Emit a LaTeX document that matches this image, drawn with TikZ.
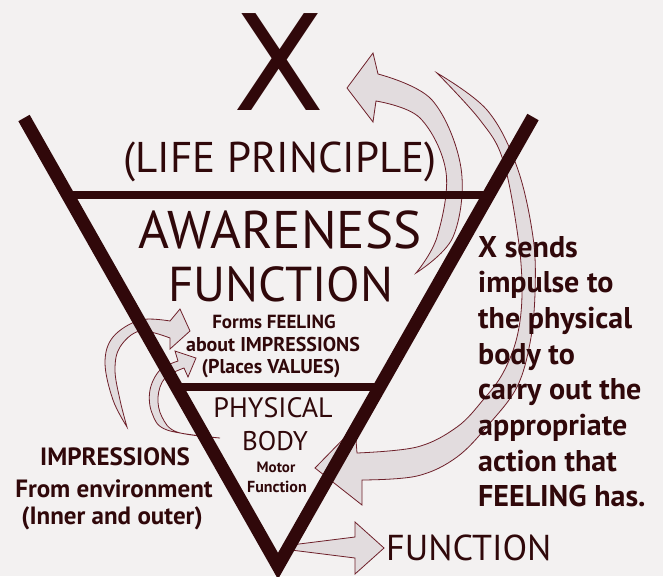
\documentclass[tikz,border=0pt]{standalone}
\usepackage{fontspec}
\setmainfont{PT Sans}
\newfontfamily\crossfont{DejaVu Sans}
\definecolor{ink}{RGB}{48,8,10}
\definecolor{rim}{RGB}{110,32,42}
\definecolor{pale}{RGB}{226,220,222}
\definecolor{paper}{RGB}{243,241,241}
\newcommand{\fs}[1]{\fontsize{#1}{#1}\selectfont}
\begin{document}
\begin{tikzpicture}[x=1pt,y=-1pt,
  every node/.style={text=ink, inner sep=0pt, anchor=base},
  bar/.style={draw=ink, line width=13pt},
  rule/.style={draw=ink, line width=8pt},
  blockarrow/.style={draw=rim, line width=0.8pt, fill=pale}]
\fill[paper] (0,0) rectangle (663,576);
\useasboundingbox (0,0) rectangle (663,576);

% arrows
\filldraw[blockarrow] plot[smooth,tension=0.6] coordinates {(416,273) (453,237) (461,168) (432,100) (378,74)}
  -- (373,53) -- (347,88) -- (373,122) --
  plot[smooth,tension=0.6] coordinates {(376,101) (420,118) (446,172) (437,237) (416,273)} -- cycle;
\filldraw[blockarrow] plot[smooth,tension=0.6] coordinates {(437,73) (487,110) (517,167) (533,237) (535,293) (530,343) (517,387) (490,423) (457,457) (417,476) (362,480)}
  -- (362,505) -- (315,468) -- (355,427) --
  plot[smooth,tension=0.6] coordinates {(357,453) (417,447) (457,427) (483,400) (503,373) (517,337) (522,293) (518,237) (503,160) (480,120) (437,73)} -- cycle;
\filldraw[blockarrow] (291,545) -- (355,537) -- (355,522) -- (384,548) -- (355,574) -- (355,558) -- (291,550) -- cycle;
\filldraw[blockarrow] plot[smooth,tension=0.6] coordinates {(127,427) (113,400) (105,363) (113,337) (140,320) (170,321)}
  -- (180,309) -- (190,331) -- (170,349) --
  plot[smooth,tension=0.6] coordinates {(170,338) (140,331) (120,347) (115,370) (120,400) (127,427)} -- cycle;
\filldraw[blockarrow] plot[smooth,tension=0.6] coordinates {(220,438) (167,430) (152,413) (150,390) (160,370) (178,361)}
  -- (175,351) -- (196,358) -- (188,377) --
  plot[smooth,tension=0.6] coordinates {(184,368) (165,378) (158,397) (162,417) (177,432) (220,438)} -- cycle;

% triangle
\coordinate (tl) at (24,118);
\coordinate (tr) at (533,117);
\coordinate (apex) at (278,566);
\coordinate (r1l) at (66,195);
\coordinate (r1r) at (490,195);
\coordinate (r2l) at (175,387);
\coordinate (r2r) at (381,387);
\draw[bar, line join=miter] (tl) -- (apex) -- (tr);
\draw[rule] (r1l) -- (r1r);
\draw[rule] (r2l) -- (r2r);

% labels
\node (x) at (279,110) {\crossfont\fs{133}X};
\node (life) at (280,172) {\fs{43}(LIFE PRINCIPLE)};
\node (aware) at (280,248) {\fs{53}AWARENESS};
\node[text depth=0pt] (func) at (281,301) {\fs{49}FUNCTION};
\node (forms) at (274,328) {\fs{19}\bfseries Forms FEELING};
\node (about) at (273,351) {\fs{20}\bfseries about IMPRESSIONS};
\node (places) at (271,373) {\fs{20}\bfseries (Places VALUES)};
\node (phys) at (273,417) {\fs{28}PHYSICAL};
\node (body) at (275,450) {\fs{27}BODY};
\node (motor) at (276,472) {\fs{15}\bfseries Motor};
\node (motfn) at (277,492) {\fs{16}\bfseries Function};
\node (impr) at (115,465) {\fs{25}\bfseries IMPRESSIONS};
\node (envir) at (114,497) {\fs{25}\bfseries From environment};
\node (inout) at (112,524) {\fs{25}\bfseries (Inner and outer)};
\foreach \t [count=\i] in {X sends, impulse to, the physical, body to, carry out the, appropriate, action that, FEELING has.}
  \node[anchor=base west] (send\i) at (478,{257+35.7*(\i-1)}) {\fs{30}\bfseries \t};
\node[anchor=base west] (out) at (386,560) {\fs{36}FUNCTION};
\end{tikzpicture}
\end{document}
